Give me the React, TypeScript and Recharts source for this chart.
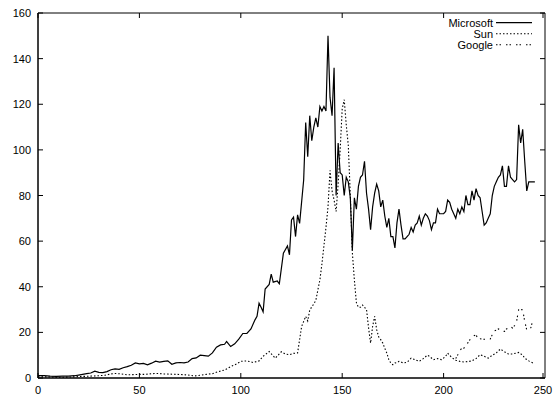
import React from "react";
import { LineChart, Line, XAxis, YAxis, Legend, ReferenceArea } from "recharts";

const xTicks = [0, 50, 100, 150, 200, 250];
const yTicks = [0, 20, 40, 60, 80, 100, 120, 140, 160];

const msftMonths = [
  0, 3, 6, 9, 12, 15, 18, 20, 22, 24, 26, 28, 30, 32, 34, 36, 38, 40, 42, 44, 46, 48, 50, 52, 54, 56, 58, 60,
  62, 64, 66, 68, 70, 72, 74, 76, 78, 80, 82, 84, 86, 88, 90, 92, 93, 95, 97, 99, 101, 103, 105, 107, 108, 109,
  110, 111, 112, 114, 115, 116, 118, 119, 121, 123, 124, 125, 126, 127, 128, 129, 131, 132, 133, 134, 135, 136,
  137, 138, 139, 140, 141, 142, 143, 144, 145, 146, 147, 148, 149, 150, 151, 152, 153, 154, 155, 156, 157, 158,
  159, 160, 161, 162, 163, 164, 165, 166, 167, 168, 169, 170, 171, 172, 173, 174, 175, 176, 177, 178, 179, 180,
  181, 182, 183, 184, 185, 186, 187, 188, 189, 190, 191, 192, 193, 194, 195, 196, 197, 198, 199, 200, 201, 202,
  203, 204, 205, 206, 207, 208, 209, 210, 211, 212, 213, 214, 215, 216, 217, 218, 219, 220, 221, 222, 223, 224,
  225, 226, 227, 228, 229, 230, 231, 232, 233, 234, 235, 236, 237, 238, 239, 240, 241, 242, 243, 244, 245,
];
const msftPrices = [
  1.0, 1.0, 0.8, 0.7, 0.8, 0.8, 1.0, 1.3, 1.6, 1.9, 2.2, 3.0, 2.5, 2.4, 2.8, 3.6, 4.0, 3.8, 4.5, 5.0, 5.6, 6.6,
  6.2, 6.4, 5.8, 6.5, 7.4, 7.0, 7.3, 7.5, 6.0, 6.6, 6.8, 6.6, 7.0, 8.5, 8.8, 10.0, 9.8, 9.6, 11.0, 13.5, 14.5,
  14.8, 16.0, 13.8, 15.0, 17.0, 19.5, 19.5, 21.5, 25.5, 27, 32.8, 31, 29, 39, 41, 45.5, 42, 42.5, 41.3, 54.7,
  57.9, 54, 69.3, 70.5, 62, 71.5, 67.8, 86.8, 112, 97, 115, 104, 110, 114, 110, 119, 117, 119, 117, 150, 123,
  115, 136, 80, 103, 90, 89, 80, 88, 86, 79, 56, 79, 74, 84, 88, 89, 95, 81, 74, 65, 75, 81, 85, 82, 75, 78,
  71, 66, 70, 62, 62, 57, 68, 74, 67, 61, 61, 62, 63, 66, 64, 67, 68, 71, 67, 70, 72, 71, 69, 65, 68, 68, 74,
  72, 72, 72, 73, 78, 77, 74, 72, 70, 74, 72, 75, 73, 80, 76, 76, 82, 78, 83, 80, 79, 73, 67, 68, 70, 72, 80,
  84, 86, 88, 89, 93, 84, 84, 93, 88, 87, 86, 87, 111, 103, 109, 95, 82, 86, 86, 86, 86,
];

const sunMonths = [
  0, 5, 10, 15, 20, 25, 30, 33, 36, 38, 41, 44, 47, 50, 53, 56, 59, 62, 65, 68, 71, 74, 77, 80, 83, 86, 89, 92,
  95, 98, 100, 103, 106, 109, 111, 114, 117, 120, 122, 124, 126, 128, 129, 130, 132, 133, 134, 136, 137, 138,
  139, 140, 141, 142, 143, 144, 145, 146, 147, 148, 149, 150, 151, 152, 153, 154, 155, 156, 157, 158, 159, 160,
  161, 162, 163, 164, 165, 166, 167, 168, 169, 170, 171, 172, 173, 174, 175, 176, 177, 178, 179, 180, 182, 184,
  186, 188, 190, 192, 193, 195, 197, 199, 201, 202, 204, 206, 208, 210, 212, 214, 216, 218, 220, 222, 224, 226,
  228, 230, 232, 234, 236, 237, 239, 240, 242, 244,
];
const sunPrices = [
  0.5, 0.5, 0.3, 0.4, 0.6, 0.8, 1.0, 1.2, 1.8, 2.0, 1.8, 1.4, 1.5, 1.6, 1.6, 1.9, 2.0, 1.8, 1.7, 1.6, 1.5, 1.3,
  0.9, 1.2, 1.6, 1.9, 2.8, 3.5, 5.0, 6.2, 7.3, 7.5, 6.8, 7.5, 9.5, 11.6, 8.7, 11.5, 10.5, 10.2, 10.8, 11, 16.8,
  22.6, 27, 25, 29.8, 32.5, 34, 38.6, 43, 50, 58, 66, 75, 91, 82, 78, 73, 85, 100, 118, 122, 111, 102, 80, 55,
  43, 33, 31, 31, 32, 31, 30, 22, 15.3, 22.6, 27, 21.2, 18, 16.8, 15.3, 13, 10.9, 8, 6.5, 5.8, 6.6, 6.8, 7.3,
  7, 6.6, 6.9, 8.7, 8, 7.3, 8.5, 10, 9.5, 8, 8.5, 8, 9.5, 10.9, 9, 7.8, 7.3, 7, 7.2, 7.5, 8.5, 10.2, 9.5, 8.7,
  10, 11, 12.7, 11.5, 10.5, 10.5, 11, 11.2, 10, 8.7, 7.5, 6.6,
];

const googMonths = [
  206, 207, 208, 209, 210, 211, 212, 213, 214, 215, 216, 217, 218, 219, 220, 221, 222, 223, 224, 225, 226, 227,
  228, 229, 230, 231, 232, 233, 234, 235, 236, 237, 238, 239, 240, 241, 242, 243, 244,
];
const googPrices = [
  8.5, 10.2, 12.1, 13, 13.1, 14, 15.5, 16.8, 17.5, 18.5, 19, 16.8, 17.2, 17, 17, 16.8, 17, 17.1, 19, 20.7, 21,
  21.5, 21.1, 20.5, 20.4, 21.5, 22, 22.6, 21.9, 23, 24.8, 29.9, 30, 29.9, 24.8, 21.1, 21.1, 22, 25.3,
];

const series = [
  { name: "Microsoft", months: msftMonths, prices: msftPrices, dash: undefined, width: 1.2 },
  { name: "Sun", months: sunMonths, prices: sunPrices, dash: "1.5 2", width: 1.1 },
  { name: "Google", months: googMonths, prices: googPrices, dash: "1.5 2 1.5 5", width: 1.1 },
];

const FONT = "'Liberation Sans', Arial, Helvetica, sans-serif";
const PLOT_W = 507;
const PLOT_H = 365;
const TICK = 5;

function BottomTick(props: any) {
  const { x, y, payload } = props;
  return (
    <g>
      <line x1={x} x2={x} y1={y} y2={y - TICK} stroke="#000" />
      <line x1={x} x2={x} y1={y - PLOT_H} y2={y - PLOT_H + TICK} stroke="#000" />
      <text x={x} y={y + 16} textAnchor="middle" fontSize={11} fontFamily={FONT} fill="#000">
        {payload.value}
      </text>
    </g>
  );
}

function LeftTick(props: any) {
  const { x, y, payload } = props;
  return (
    <g>
      <line x1={x} x2={x + TICK} y1={y} y2={y} stroke="#000" />
      <line x1={x + PLOT_W} x2={x + PLOT_W - TICK} y1={y} y2={y} stroke="#000" />
      <text x={x - 7} y={y + 4} textAnchor="end" fontSize={11} fontFamily={FONT} fill="#000">
        {payload.value}
      </text>
    </g>
  );
}

function KeyBox() {
  return (
    <svg width={110} height={42} style={{ display: "block" }}>
      {series.map((s, i) => (
        <g key={s.name}>
          <text x={53} y={13.7 + i * 11} textAnchor="end" fontSize={11} fontFamily={FONT} fill="#000">
            {s.name}
          </text>
          <line
            x1={56}
            x2={92}
            y1={9.7 + i * 11}
            y2={9.7 + i * 11}
            stroke="#000"
            strokeWidth={s.width}
            strokeDasharray={s.dash}
          />
        </g>
      ))}
    </svg>
  );
}

export default function App() {
  return (
    <div style={{ position: "absolute", left: 0, top: 0, width: 555, height: 395, background: "#fff" }}>
      <LineChart width={555} height={395} margin={{ top: 13, right: 10, bottom: 0, left: 0 }}>
        <XAxis
          type="number"
          dataKey="t"
          domain={[0, 250]}
          ticks={xTicks}
          height={17}
          tickLine={false}
          tickSize={0}
          tickMargin={0}
          axisLine={{ stroke: "#000" }}
          tick={<BottomTick />}
          allowDataOverflow
        />
        <YAxis
          type="number"
          domain={[0, 160]}
          ticks={yTicks}
          width={38}
          tickLine={false}
          tickSize={0}
          tickMargin={0}
          axisLine={{ stroke: "#000" }}
          tick={<LeftTick />}
          allowDataOverflow
        />
        <ReferenceArea x1={0} x2={250} y1={0} y2={160} fill="none" stroke="#000" strokeWidth={1} ifOverflow="visible" />
        {series.map((s) => (
          <Line
            key={s.name}
            name={s.name}
            data={s.months.map((t, i) => ({ t, v: s.prices[i] }))}
            dataKey="v"
            type="linear"
            stroke="#000"
            strokeWidth={s.width}
            strokeDasharray={s.dash}
            dot={false}
            activeDot={false}
            isAnimationActive={false}
          />
        ))}
        <Legend
          layout="vertical"
          align="center"
          verticalAlign="middle"
          wrapperStyle={{ left: 440, top: 13, width: 110, height: 42 }}
          content={<KeyBox />}
        />
      </LineChart>
    </div>
  );
}
